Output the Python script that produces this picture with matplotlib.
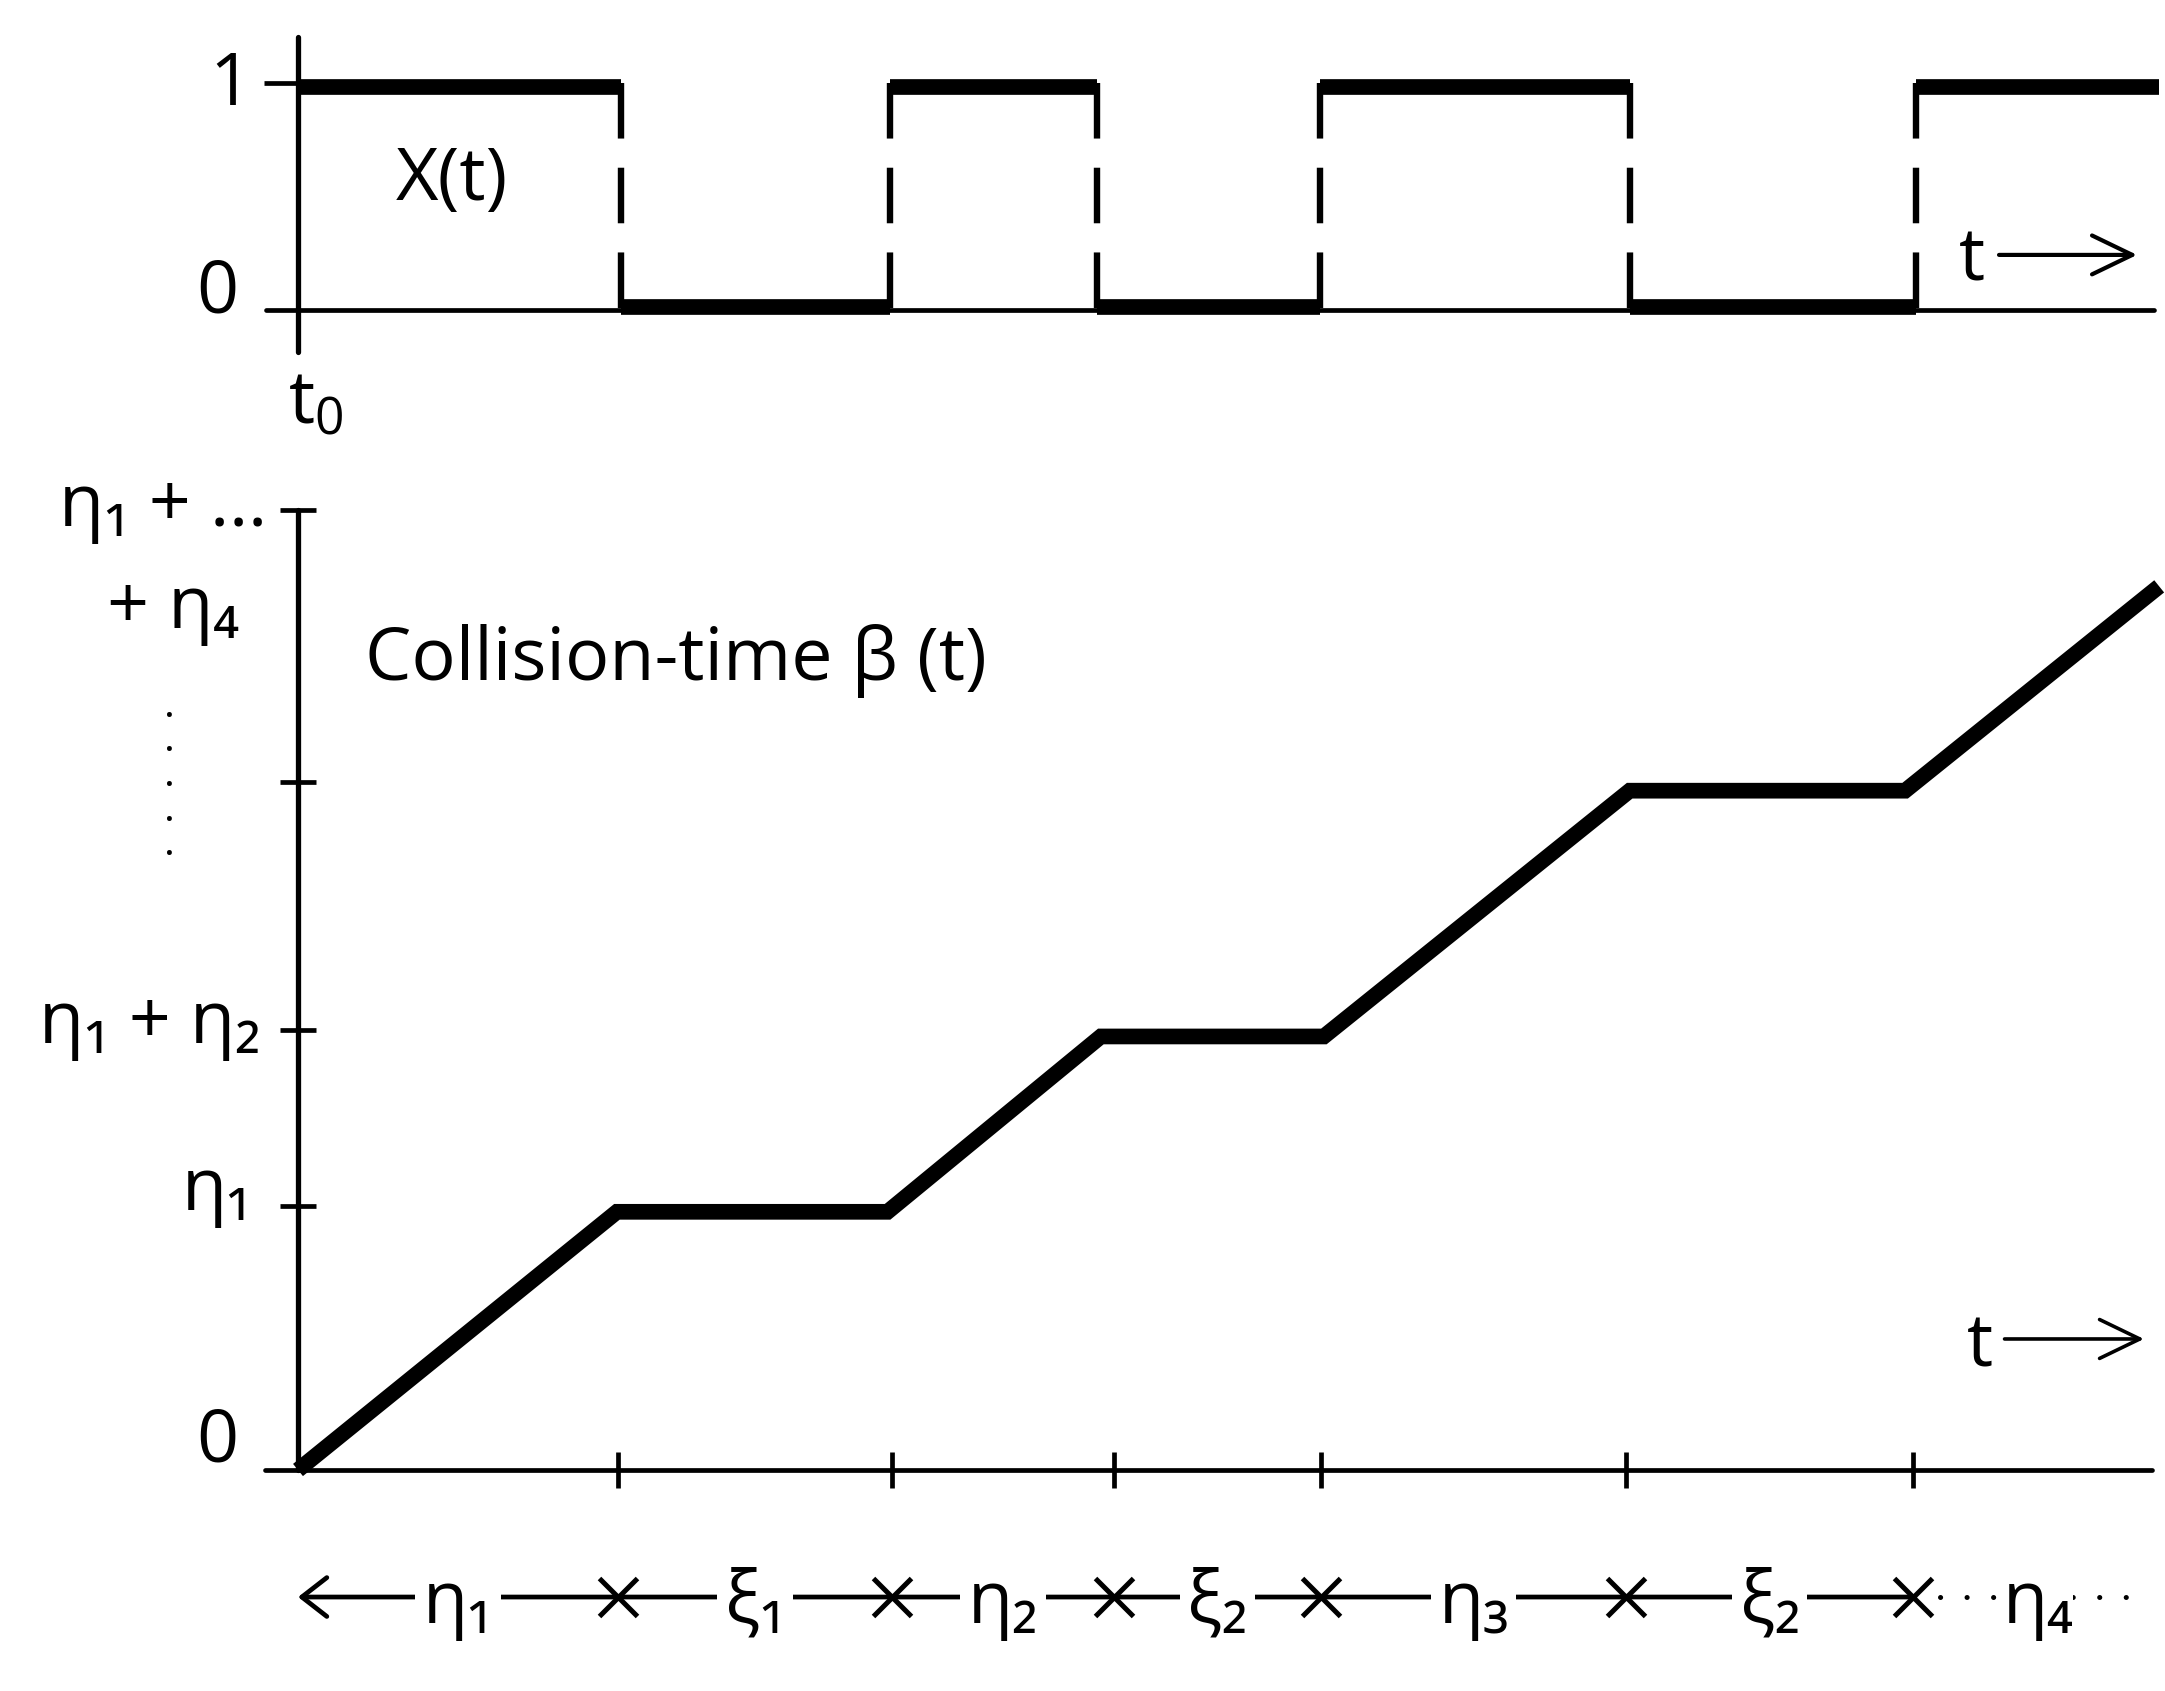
import matplotlib
matplotlib.use('Agg')
import matplotlib.pyplot as plt
from matplotlib.transforms import ScaledTranslation

plt.rcParams['font.family'] = ['Open Sans', 'DejaVu Sans']
plt.rcParams['mathtext.fontset'] = 'custom'
plt.rcParams['mathtext.rm'] = 'Open Sans'
plt.rcParams['mathtext.it'] = 'Open Sans'
plt.rcParams['mathtext.bf'] = 'Open Sans'
plt.rcParams['lines.scale_dashes'] = False

# ---------------- data ----------------
# X(t): switching instants (t0 = 0) and the state held after each one
x_switch_times = [0.0, 2.34, 4.29, 5.79, 7.40, 9.645, 11.72]
x_states = [1, 0, 1, 0, 1, 0, 1]
t_end = 13.48

# collision-time beta(t): breakpoints of the piecewise-linear curve
beta_t = [0.0, 2.31, 4.27, 5.815, 7.43, 9.645, 11.64, 13.48]
beta_v = [0.0, 1.87, 1.87, 3.14, 3.14, 4.92, 4.92, 6.40]

# time axis interval marks and the interval names under them
interval_ticks = [2.32, 4.30, 5.91, 7.41, 9.62, 11.70]
interval_labels = ['η₁', 'ξ₁', 'η₂', 'ξ₂', 'η₃', 'ξ₂', 'η₄']

# beta axis ticks
beta_ticks = [1.912, 3.187, 4.983, 6.953]

# ---------------- layout ----------------
W, H = 2165, 1691
PX = 138.07          # pixels per time unit
X0 = 298             # pixel column of t0
FS = 53
fig = plt.figure(figsize=(W / 100, H / 100), dpi=100)
fig.patch.set_facecolor('white')

xlim = (-X0 / PX, (W - X0) / PX)

ax_top = fig.add_axes([0, 1 - 455 / H, 1, 455 / H])
ax_top.set_xlim(*xlim)
TPX = 226.7
ax_top.set_ylim((310 - 455) / TPX, 310 / TPX)

ax_bot = fig.add_axes([0, 0, 1, 1236 / H])
ax_bot.set_xlim(*xlim)
ax_bot.set_ylim((1470 - 1691) / PX, (1470 - 455) / PX)

for ax in (ax_top, ax_bot):
    ax.set_facecolor('none')
    ax.spines['top'].set_visible(False)
    ax.spines['right'].set_visible(False)
    ax.spines['left'].set_position(('data', 0))
    ax.spines['bottom'].set_position(('data', 0))
    ax.spines['left'].set_linewidth(3.8)
    ax.spines['bottom'].set_linewidth(3.4)
    ax.spines['left'].set_capstyle('round')
    ax.spines['bottom'].set_capstyle('round')

ax_top.spines['left'].set_bounds(-0.185, 1.204)
ax_top.spines['bottom'].set_bounds(-0.23, 13.44)
ax_bot.spines['left'].set_bounds(0, 6.953)
ax_bot.spines['bottom'].set_bounds(-0.24, 13.43)

ax_top.set_xticks([])
ax_top.set_yticks([1])
ax_top.tick_params(axis='y', direction='out', length=24.5, width=3.4, labelleft=False)

ax_bot.set_xticks(interval_ticks)
ax_bot.set_yticks(beta_ticks)
ax_bot.tick_params(axis='x', direction='inout', length=26.5, width=3.4, labelbottom=False)
ax_bot.tick_params(axis='y', direction='inout', length=26, width=3.4, labelleft=False)

# ---------------- top panel: X(t) ----------------
seg_ends = x_switch_times[1:] + [t_end]
for s, e, lvl in zip(x_switch_times, seg_ends, x_states):
    dy = -2.8 if lvl == 1 else 2.4
    tr = ax_top.transData + ScaledTranslation(0, dy / 72, fig.dpi_scale_trans)
    ax_top.plot([s, e], [lvl, lvl], color='black', lw=11.3,
                solid_capstyle='butt', transform=tr, zorder=3)
for t in x_switch_times[1:]:
    ax_top.plot([t, t], [1, 0], color='black', lw=4.6, ls=(0, (40, 21)), zorder=2)

ax_top.text(-0.34, 0.904, '1', ha='right', va='baseline', fontsize=FS)
ax_top.text(-0.43, -0.013, '0', ha='right', va='baseline', fontsize=FS)
ax_top.text(0.71, 0.485, 'X(t)', ha='left', va='baseline', fontsize=FS)
ax_top.text(-0.07, -0.498, r'$\mathrm{t}_0$', ha='left', va='baseline', fontsize=FS)
ax_top.text(12.03, 0.132, 't', ha='left', va='baseline', fontsize=FS)
ax_top.annotate('', xy=(13.32, 0.243), xytext=(12.32, 0.243),
                arrowprops=dict(arrowstyle='->,head_length=1.45,head_width=0.7',
                                lw=3, color='black', mutation_scale=20,
                                shrinkA=0, shrinkB=0))

# ---------------- bottom panel: beta(t) ----------------
ax_bot.plot(beta_t, beta_v, color='black', lw=11.3, solid_joinstyle='miter',
            solid_capstyle='butt', zorder=3)

ax_bot.text(-0.43, 0.058, '0', ha='right', va='baseline', fontsize=FS)
ax_bot.text(-0.33, 1.883, 'η₁', ha='right', va='baseline', fontsize=FS)
ax_bot.text(-0.27, 3.09, 'η₁ + η₂', ha='right', va='baseline', fontsize=FS)
ax_bot.text(-0.22, 6.84, 'η₁ + …', ha='right', va='baseline', fontsize=FS)
ax_bot.text(-0.43, 6.10, '+ η₄', ha='right', va='baseline', fontsize=FS)
ax_bot.text(-0.93, 5.687, '.\n.\n.\n.\n.', ha='center', va='top', fontsize=30,
            linespacing=0.77)
ax_bot.text(0.485, 5.72, 'Collision-time β (t)', ha='left', va='baseline', fontsize=FS)

ax_bot.text(12.09, 0.746, 't', ha='left', va='baseline', fontsize=FS)
ax_bot.annotate('', xy=(13.37, 0.949), xytext=(12.36, 0.949),
                arrowprops=dict(arrowstyle='->,head_length=1.45,head_width=0.7',
                                lw=2.6, color='black', mutation_scale=20,
                                shrinkA=0, shrinkB=0))

# interval strip under the time axis
row_y = -0.92
label_base = -1.108
ax_bot.annotate('', xy=(0, row_y), xytext=(interval_ticks[-1], row_y),
                arrowprops=dict(arrowstyle='->,head_length=0.9,head_width=0.7',
                                lw=3.4, color='black', mutation_scale=20,
                                shrinkA=0, shrinkB=0), annotation_clip=False)
ax_bot.plot([11.89, 13.25], [row_y, row_y], color='black', lw=3.6,
            ls=(0, (0.1, 19.0)), dash_capstyle='round', zorder=2)
ax_bot.plot(interval_ticks, [row_y] * len(interval_ticks), ls='none', marker='x',
            ms=27, mew=3.6, color='black', zorder=4)
bounds = [0.0] + interval_ticks + [13.5]
for i, lab in enumerate(interval_labels):
    c = (bounds[i] + bounds[i + 1]) / 2
    pad = 0.0 if i == len(interval_labels) - 1 else 0.1
    ax_bot.text(c, label_base, lab, ha='center', va='baseline', fontsize=FS,
                zorder=5, bbox=dict(boxstyle=f'square,pad={pad}', fc='white', ec='none'))

fig.savefig('out.png', dpi=100, facecolor='white')
